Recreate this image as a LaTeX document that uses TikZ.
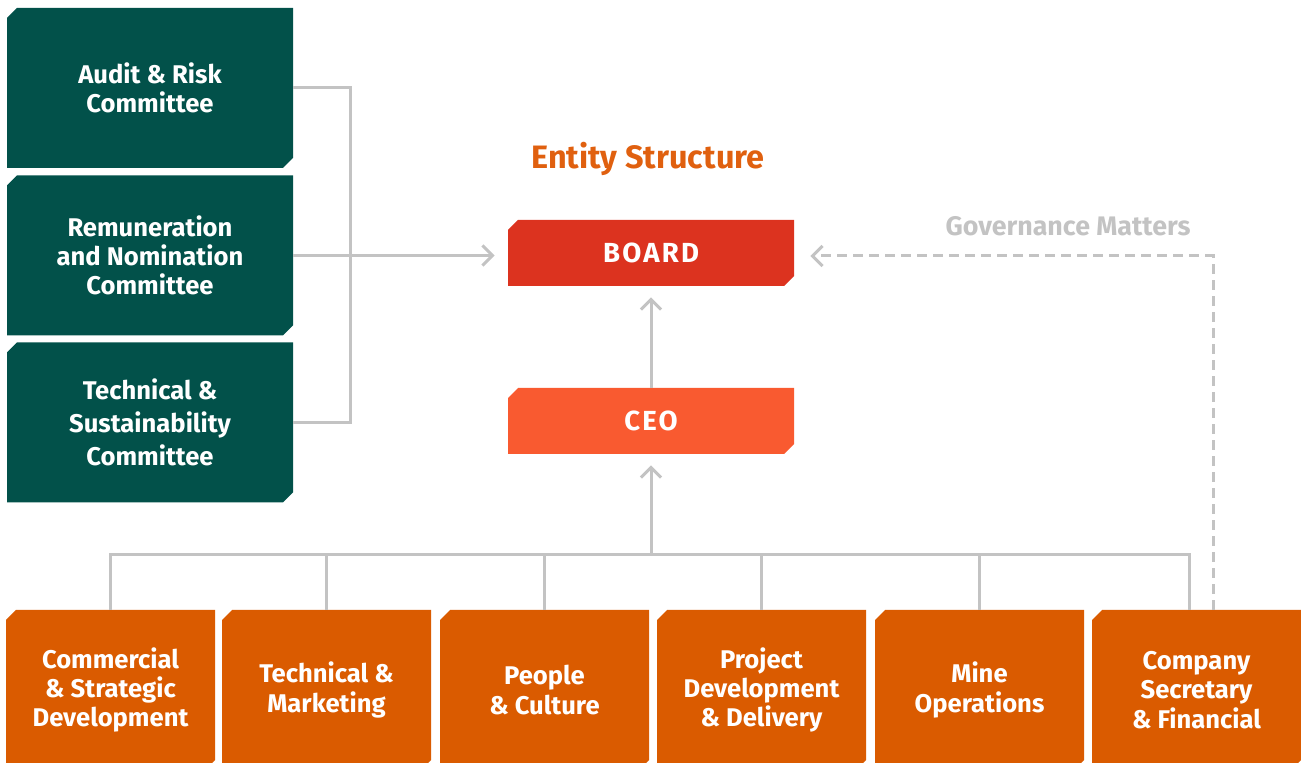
\documentclass[tikz,border=0pt]{standalone}
\usepackage{fontspec}
\setmainfont{Fira Sans}
\usetikzlibrary{arrows.meta,positioning,shapes.misc}
\definecolor{committeegreen}{HTML}{02514A}
\definecolor{boardred}{HTML}{DC331F}
\definecolor{ceoorange}{HTML}{F95A30}
\definecolor{deptorange}{HTML}{DA5B00}
\definecolor{titleorange}{HTML}{E0600F}
\definecolor{linkgray}{HTML}{C3C3C3}

\begin{document}
\begin{tikzpicture}[x=0.5pt,y=-0.5pt,
		box/.style={chamfered rectangle,chamfered rectangle corners={north west,south east},
			chamfered rectangle xsep=2.5pt,chamfered rectangle ysep=2.5pt,inner sep=0pt,
			align=center,text=white,font=\bfseries\fontsize{12.8}{14.6}\selectfont},
		committee/.style={box,fill=committeegreen,minimum width=143pt,minimum height=80pt},
		dept/.style={box,fill=deptorange,minimum width=104.5pt,minimum height=80pt},
		chief/.style={box,minimum width=143pt,minimum height=33pt,
			font=\bfseries\fontsize{13.8}{16}\selectfont\addfontfeature{LetterSpace=8}},
		link/.style={draw=linkgray,line width=1.5pt},
		tip/.style={-{Straight Barb[length=5pt,width=10pt,line width=1.5pt]}}]
		\useasboundingbox (0,0) rectangle (1301,763);
		% committees
		\node[committee] (audit) at (150,88) {Audit \& Risk\\Committee};
		\node[committee] (remun) at (150,255.5) {Remuneration\\and Nomination\\Committee};
		\node[committee] (sustain) at (150,422.5) {Technical \&\\[2pt]Sustainability\\[2pt]Committee};
		% board and ceo
		\node[font=\bfseries\fontsize{16.2}{19}\selectfont,text=titleorange] (title) at (648,159) {Entity Structure};
		\node[chief,fill=boardred] (board) at (651,253) {BOARD};
		\node[chief,fill=ceoorange] (ceo) at (651,421) {CEO};
		% departments
		\node[dept] (commercial) at (110.5,690) {Commercial\\\& Strategic\\Development};
		\node[dept] (technical) at (326.5,690) {Technical \&\\Marketing};
		\node[dept] (people) at (544.5,690) {People\\\& Culture};
		\node[dept] (project) at (761.5,690) {Project\\Development\\\& Delivery};
		\node[dept] (mine) at (979.5,690) {Mine\\Operations};
		\node[dept] (company) at (1196.5,690) {Company\\Secretary\\\& Financial};
		% committee bracket
		\coordinate (bracket) at (350,255);
		\draw[link] (audit.east) -| (bracket) |- (sustain.east);
		\draw[link,tip,shorten >=6.5pt] (remun.east) -- (remun.east -| board.west);
		% reporting lines
		\coordinate (bus) at (651,555);
		\draw[link,tip,shorten >=5.5pt] (ceo.north) -- (board.south);
		\draw[link,tip,shorten >=5.5pt] (bus) -- (ceo.south);
		\draw[link] (commercial.north) -- ++(0,-55) -| ([xshift=-3.75pt]company.north);
		\foreach \d in {technical,people,project,mine}
			\draw[link] (\d.north) -- ++(0,-55);
		% governance
		\coordinate (govern) at (1213,256);
		\draw[link,tip,dash pattern=on 5pt off 3pt,shorten >=8pt] ([xshift=8.25pt]company.north) -- (govern) -- (govern -| board.east);
		\node[font=\bfseries\fontsize{13.4}{15}\selectfont,text=linkgray] (govlabel) at (1068,226) {Governance Matters};
	\end{tikzpicture}
\end{document}
